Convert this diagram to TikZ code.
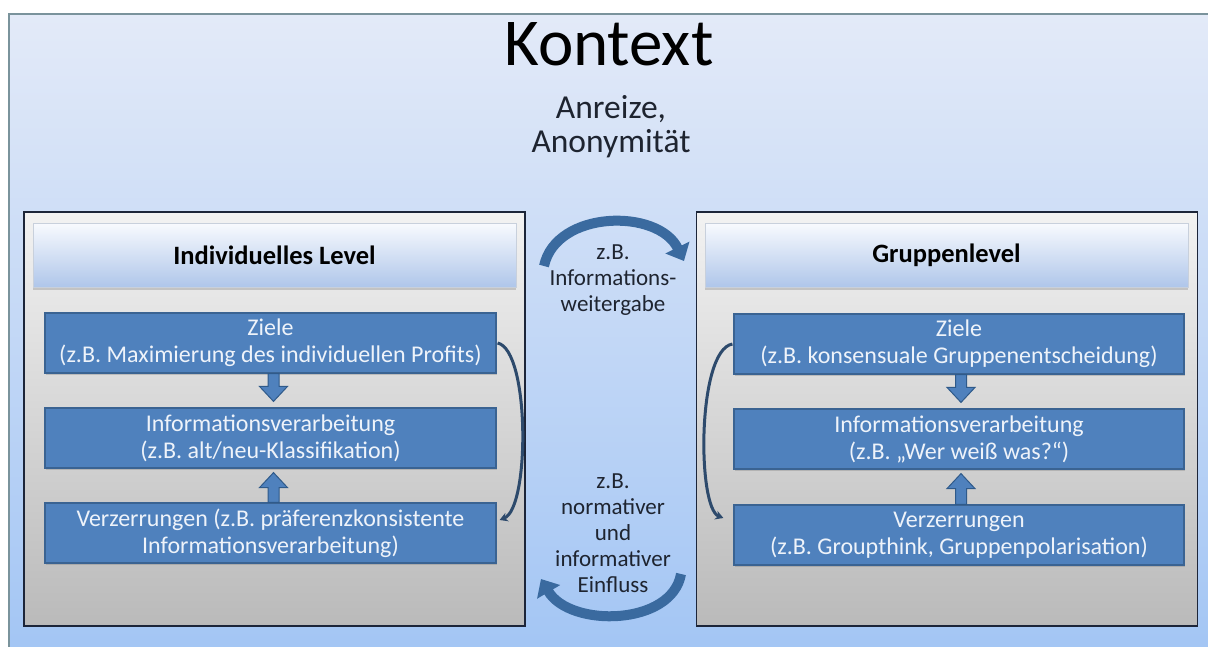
\documentclass[tikz,border=0pt]{standalone}
\usepackage{fontspec}
\setmainfont{Carlito}
\usetikzlibrary{arrows.meta,calc,shadows}
\definecolor{bgtop}{HTML}{E3EAF8}
\definecolor{bgbot}{HTML}{A2C5F4}
\definecolor{framecol}{HTML}{7A939C}
\definecolor{pantop}{HTML}{F2F2F2}
\definecolor{panbot}{HTML}{BABABA}
\definecolor{panedge}{HTML}{1C2539}
\definecolor{hdtop}{HTML}{F8FAFE}
\definecolor{hdbot}{HTML}{AFC6EA}
\definecolor{bevel}{HTML}{C8D0DC}
\definecolor{boxfill}{HTML}{4F81BD}
\definecolor{boxedge}{HTML}{3A6392}
\definecolor{blkedge}{HTML}{2F5A8A}
\definecolor{curvecol}{HTML}{2D4A6C}
\definecolor{midarrow}{HTML}{3A6A9F}
\definecolor{labeltext}{HTML}{1E2430}
\definecolor{boxtext}{HTML}{EEF3FA}
\newcommand{\blockarr}[3]{%
  \path[blk] ($(#1)+(-5.5,0)$) -- ($(#1)+(5.5,0)$) -- ($(#2)+(5.5,-15*#3)$) -- ($(#2)+(14,-15*#3)$) -- (#2) -- ($(#2)+(-14,-15*#3)$) -- ($(#2)+(-5.5,-15*#3)$) -- cycle;}
\begin{document}
\begin{tikzpicture}[x=1pt,y=-1pt,
  panel/.style={draw=panedge, line width=1.8pt, top color=pantop, bottom color=panbot, minimum width=501pt, minimum height=414pt, inner sep=0pt},
  header/.style={top color=hdtop, bottom color=hdbot, draw=bevel, line width=0.6pt, minimum width=483pt, minimum height=64pt, inner sep=0pt, font=\fontsize{26.5}{30}\selectfont\bfseries, text=black,
    drop shadow={shadow xshift=0pt, shadow yshift=-3pt, opacity=0.35}},
  box/.style={fill=boxfill, draw=boxedge, line width=1.2pt, minimum width=451pt, minimum height=60pt, inner sep=0pt, align=center, text=boxtext, font=\fontsize{24}{27}\selectfont,
    drop shadow={shadow xshift=1pt, shadow yshift=-2pt, opacity=0.35}},
  blk/.style={fill=boxfill, draw=blkedge, line width=1pt, line join=miter},
  midlabel/.style={align=center, text=labeltext, font=\fontsize{23}{26}\selectfont, inner sep=0pt},
  innercurve/.style={draw=curvecol, line width=3pt, -{Stealth[length=8pt,width=9pt]}},
  midarr/.style={draw=midarrow, line width=10pt, -{Triangle[length=15pt,width=26pt]}}
]
\useasboundingbox (0,0) rectangle (1208,646);
\clip (0,0) rectangle (1208,646);
\fill[white] (0,0) rectangle (1208,646);
% context background
\path[top color=bgtop, bottom color=bgbot, draw=framecol, line width=2pt] (9,14) rectangle (1220,660);
% title
\node[anchor=base, font=\fontsize{67}{70}\selectfont, text=black, inner sep=0pt] (title) at (609,65) {Kontext};
\node[align=center, font=\fontsize{33.5}{34}\selectfont, text=labeltext, inner sep=0pt] (sub) at (611,127) {Anreize,\\Anonymität};
% panels
\node[panel] (lp) at (274.5,419) {};
\node[panel] (rp) at (947,419) {};
% headers
\node[header] (hl) at (274.5,255) {Individuelles Level};
\node[header] (hr) at (946.5,255) {Gruppenlevel};
% boxes left
\node[box] (zl) at (270.5,343) {Ziele\\(z.B. Maximierung des individuellen Profits)};
\node[box] (il) at (270.5,438) {Informationsverarbeitung\\(z.B. alt/neu-Klassifikation)};
\node[box] (vl) at (270.5,533) {Verzerrungen (z.B. präferenzkonsistente\\Informationsverarbeitung)};
% boxes right
\node[box, minimum width=450pt] (zr) at (959,344) {Ziele\\(z.B. konsensuale Gruppenentscheidung)};
\node[box, minimum width=450pt] (ir) at (959,439) {Informationsverarbeitung\\(z.B. „Wer weiß was?“)};
\node[box, minimum width=450pt] (vr) at (959,535) {Verzerrungen\\(z.B. Groupthink, Gruppenpolarisation)};
% block arrows
\coordinate (dSl) at ($(zl.south)+(3,0)$);
\coordinate (dTl) at ($(il.north)+(3,-6)$);
\coordinate (uSl) at ($(vl.north)+(3,0)$);
\coordinate (uTl) at ($(il.south)+(3,4)$);
\coordinate (dSr) at ($(zr.south)+(2,0)$);
\coordinate (dTr) at ($(ir.north)+(2,-6)$);
\coordinate (uSr) at ($(vr.north)+(2,0)$);
\coordinate (uTr) at ($(ir.south)+(2,4)$);
\blockarr{dSl}{dTl}{1}
\blockarr{uSl}{uTl}{-1}
\blockarr{dSr}{dTr}{1}
\blockarr{uSr}{uTr}{-1}
% inner curves
\draw[innercurve] ($(zl.east)+(1,0)$) .. controls (530,350) and (530,508) .. ($(vl.east)+(3,-13)$);
\draw[innercurve] ($(zr.west)+(-1,0)$) .. controls (697,350) and (697,508) .. ($(vr.west)+(-10,-17)$);
% middle labels
\node[midlabel] (ml1) at (613,280) {z.B.\\Informations-\\weitergabe};
\node[midlabel] (ml2) at (613,533) {z.B.\\normativer\\und\\informativer\\Einfluss};
% middle arrows
\coordinate (a1s) at (544,266);
\coordinate (a1e) at (684,261);
\coordinate (a2s) at (681,574);
\coordinate (a2e) at (541,579);
\draw[midarr] (a1s) .. controls (556,210) and (658,208) .. (a1e);
\draw[midarr] (a2s) .. controls (672,626) and (570,628) .. (a2e);
\end{tikzpicture}
\end{document}
